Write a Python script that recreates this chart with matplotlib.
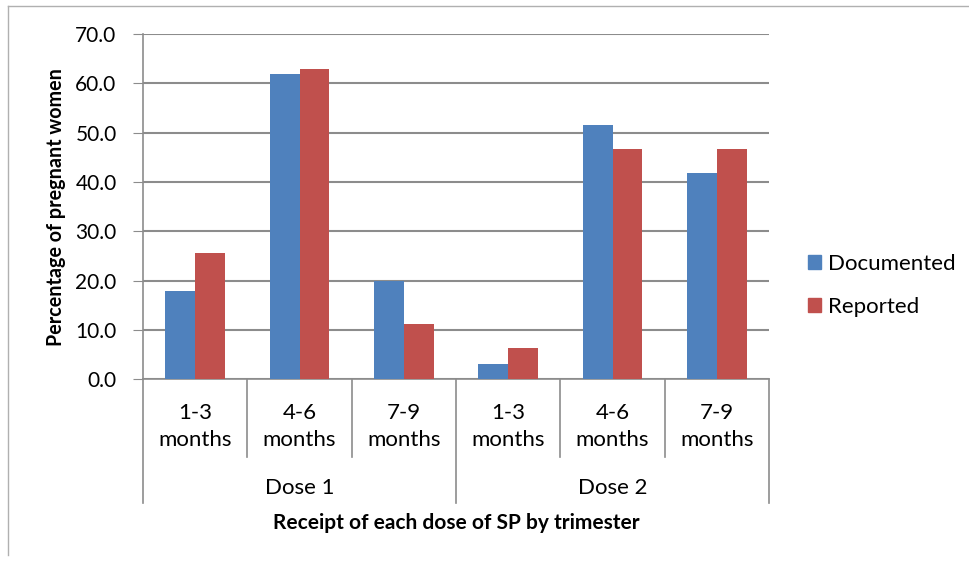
import numpy as np
from matplotlib import pyplot as plt
from matplotlib.lines import Line2D
from matplotlib.patches import Patch

months = ['1-3\nmonths', '4-6\nmonths', '7-9\nmonths'] * 2
doses = ['Dose 1', 'Dose 2']
documented = [18.0, 61.8, 19.9, 3.1, 51.5, 41.9]
reported = [25.7, 63.0, 11.2, 6.4, 46.7, 46.7]

BLUE = '#4F81BD'
RED = '#C0504D'
GRID = '#8C8C8C'

plt.rcParams['font.family'] = ['Lato', 'DejaVu Sans']

fig = plt.figure(figsize=(9.69, 5.65), dpi=100)
ax = fig.add_axes([143/969, 1-379.3/565, (769-143)/969, (379.3-34)/565])

x = np.arange(len(months))
w = 0.285
ax.bar(x - w/2, documented, w, color=BLUE, zorder=3)
ax.bar(x + w/2, reported, w, color=RED, zorder=3)

ax.set_xlim(-0.5, 5.5)
ax.set_ylim(0, 70)
ax.set_yticks(np.arange(0, 71, 10))
ax.set_yticklabels(['%.1f' % v for v in np.arange(0, 71, 10)], fontsize=15)
ax.tick_params(axis='y', length=7, color=GRID, pad=12)
ax.set_xticks([])
ax.yaxis.grid(True, color=GRID, linewidth=1.5, zorder=0)
for s in ['top', 'right']:
    ax.spines[s].set_visible(False)
for s in ['left', 'bottom']:
    ax.spines[s].set_color(GRID)
    ax.spines[s].set_linewidth(1.2)

# category dividers below the axis
tr = ax.get_xaxis_transform()
for b in np.arange(-0.5, 6, 1):
    depth = -0.358 if b in (-0.5, 2.5, 5.5) else -0.224
    ax.plot([b, b], [0, depth], transform=tr, color=GRID, lw=1.2, clip_on=False)

for i, lab in enumerate(months):
    ax.text(i, -0.137, lab, transform=tr, ha='center', va='center',
            fontsize=16, linespacing=1.4)
for j, d in enumerate(doses):
    ax.text(1 + 3*j, -0.315, d, transform=tr, ha='center', va='center', fontsize=16)

ax.text(2.5, -0.416, 'Receipt of each dose of SP by trimester', transform=tr,
        ha='center', va='center', fontsize=15, fontweight='bold')
ax.set_ylabel('Percentage of pregnant women', fontsize=14.2, fontweight='bold', labelpad=6.5)

handles = [Patch(color=BLUE, label='Documented'), Patch(color=RED, label='Reported')]
fig.legend(handles=handles, loc='center left', bbox_to_anchor=(788/969, 1-285.5/565),
           frameon=False, fontsize=16, handlelength=0.6, handleheight=0.6,
           handletextpad=0.3, labelspacing=1.05)

# outer frame edges
fig.add_artist(Line2D([8/969, 8/969], [1-555/565, 1-6/565], color='#B0B0B0', lw=1))
fig.add_artist(Line2D([8/969, 1], [1-6/565, 1-6/565], color='#B0B0B0', lw=1))

plt.savefig('out.png', dpi=100)
